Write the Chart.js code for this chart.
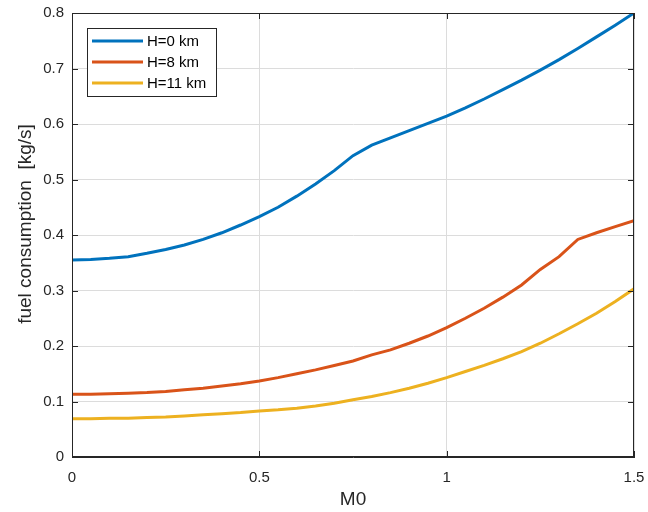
<!DOCTYPE html>
<html>
<head>
<meta charset="utf-8">
<script src="https://cdn.jsdelivr.net/npm/chart.js@4/dist/chart.umd.min.js"></script>
<style>
  html, body { margin: 0; padding: 0; background: #fff; }
  #wrap { width: 648px; height: 512px; }
</style>
</head>
<body>
<div id="wrap"><canvas id="grafico-consumo"></canvas></div>
<script>
var machNumbers = [0, 0.05, 0.1, 0.15, 0.2, 0.25, 0.3, 0.35, 0.4, 0.45, 0.5, 0.55, 0.6, 0.65, 0.7, 0.75,
  0.8, 0.85, 0.9, 0.95, 1, 1.05, 1.1, 1.15, 1.2, 1.25, 1.3, 1.35, 1.4, 1.45, 1.5];

var fuelH0 = [0.355, 0.356, 0.358, 0.361, 0.367, 0.374, 0.382, 0.392, 0.404, 0.418, 0.433, 0.450, 0.470,
  0.492, 0.516, 0.543, 0.562, 0.575, 0.588, 0.601, 0.614, 0.629, 0.645, 0.662, 0.679, 0.697, 0.716,
  0.736, 0.757, 0.778, 0.800];
var fuelH8 = [0.113, 0.113, 0.114, 0.115, 0.116, 0.118, 0.121, 0.124, 0.128, 0.132, 0.137, 0.143, 0.150,
  0.157, 0.165, 0.173, 0.184, 0.193, 0.205, 0.218, 0.233, 0.250, 0.268, 0.288, 0.310, 0.338, 0.361,
  0.392, 0.404, 0.415, 0.426];
var fuelH11 = [0.069, 0.069, 0.070, 0.070, 0.071, 0.072, 0.074, 0.076, 0.078, 0.080, 0.083, 0.085, 0.088,
  0.092, 0.097, 0.103, 0.109, 0.116, 0.124, 0.133, 0.143, 0.154, 0.165, 0.177, 0.190, 0.205, 0.222,
  0.240, 0.259, 0.280, 0.303];

var seriesLabels = ["H=0 km", "H=8 km", "H=11 km"];
var xTicks = [0, 0.5, 1, 1.5];
var yTicks = [0, 0.1, 0.2, 0.3, 0.4, 0.5, 0.6, 0.7, 0.8];
var yTitle = "fuel consumption  [kg/s]";

var fonte = "'Liberation Sans', Arial, sans-serif";

function toPoints(ys) {
  return machNumbers.map(function (x, i) { return { x: x, y: ys[i] }; });
}

// moldura estilo matlab + ticks para dentro + legenda dentro do grafico
var matlabBox = {
  id: "matlabBox",
  afterDraw: function (chart) {
    var ctx = chart.ctx;
    var a = chart.chartArea;
    var sx = chart.scales.x, sy = chart.scales.y;
    ctx.save();
    ctx.strokeStyle = "#262626";
    ctx.lineWidth = 1;
    ctx.strokeRect(a.left + 0.5, a.top + 0.5, a.right - a.left - 1, a.bottom - a.top - 1);
    ctx.beginPath();
    xTicks.forEach(function (v) {
      var px = Math.round(sx.getPixelForValue(v)) + 0.5;
      ctx.moveTo(px, a.bottom); ctx.lineTo(px, a.bottom - 6);
      ctx.moveTo(px, a.top); ctx.lineTo(px, a.top + 6);
    });
    yTicks.forEach(function (v) {
      var py = Math.round(sy.getPixelForValue(v)) + 0.5;
      ctx.moveTo(a.left, py); ctx.lineTo(a.left + 6, py);
      ctx.moveTo(a.right, py); ctx.lineTo(a.right - 6, py);
    });
    ctx.stroke();

    // titulo do eixo y (desenhado a mao pra ficar na mesma posicao do matlab)
    ctx.save();
    ctx.translate(26, 224);
    ctx.rotate(-Math.PI / 2);
    ctx.font = "19px " + fonte;
    ctx.fillStyle = "#262626";
    ctx.textAlign = "center";
    ctx.textBaseline = "middle";
    ctx.fillText(yTitle, 0, 0);
    ctx.restore();

    // legenda
    var lx = 87, ly = 28, lw = 129, lh = 68;
    ctx.fillStyle = "#fff";
    ctx.fillRect(lx, ly, lw, lh);
    ctx.strokeStyle = "#262626";
    ctx.strokeRect(lx + 0.5, ly + 0.5, lw, lh);
    ctx.font = "15px " + fonte;
    ctx.textBaseline = "middle";
    ctx.fillStyle = "#000";
    chart.data.datasets.forEach(function (ds, i) {
      var yy = ly + 13 + i * 21;
      ctx.strokeStyle = ds.borderColor;
      ctx.lineWidth = 3;
      ctx.beginPath();
      ctx.moveTo(92, yy); ctx.lineTo(143, yy);
      ctx.stroke();
      ctx.fillText(ds.label, 147, yy + 1);
    });
    ctx.restore();
  }
};

var graficoConsumo = document.getElementById("grafico-consumo").getContext("2d");

new Chart(graficoConsumo, {
  type: "line",
  data: {
    datasets: [
      { label: seriesLabels[0], data: toPoints(fuelH0), borderColor: "#0072BD" },
      { label: seriesLabels[1], data: toPoints(fuelH8), borderColor: "#D95319" },
      { label: seriesLabels[2], data: toPoints(fuelH11), borderColor: "#EDB120" },
    ],
  },
  options: {
    responsive: true,
    maintainAspectRatio: false,
    animation: false,
    layout: { padding: { left: 0, top: 13, right: 14, bottom: 0 } },
    elements: {
      point: { radius: 0 },
      line: { borderWidth: 3, tension: 0 },
    },
    plugins: {
      legend: { display: false },
      title: { display: false },
      tooltip: { enabled: false },
    },
    scales: {
      x: {
        type: "linear",
        min: 0,
        max: 1.5,
        afterBuildTicks: function (s) { s.ticks = xTicks.map(function (v) { return { value: v }; }); },
        afterFit: function (s) { s.height = 55; s.paddingRight = 0; s.paddingLeft = 0; },
        grid: { color: "#dcdcdc", drawTicks: false },
        border: { color: "#262626" },
        ticks: {
          padding: 12,
          color: "#262626",
          font: { family: fonte, size: 15 },
          callback: function (v) { return String(v); },
        },
        title: {
          display: true,
          text: "M0",
          color: "#262626",
          padding: { top: 4, bottom: 1 },
          font: { family: fonte, size: 19 },
        },
      },
      y: {
        min: 0,
        max: 0.8,
        afterBuildTicks: function (s) { s.ticks = yTicks.map(function (v) { return { value: v }; }); },
        afterFit: function (s) { s.width = 72; s.paddingTop = 0; s.paddingBottom = 0; },
        grid: { color: "#dcdcdc", drawTicks: false },
        border: { color: "#262626" },
        ticks: {
          padding: 8,
          color: "#262626",
          font: { family: fonte, size: 15 },
          callback: function (v) { return String(v); },
        },
      },
    },
  },
  plugins: [matlabBox],
});
</script>
</body>
</html>
